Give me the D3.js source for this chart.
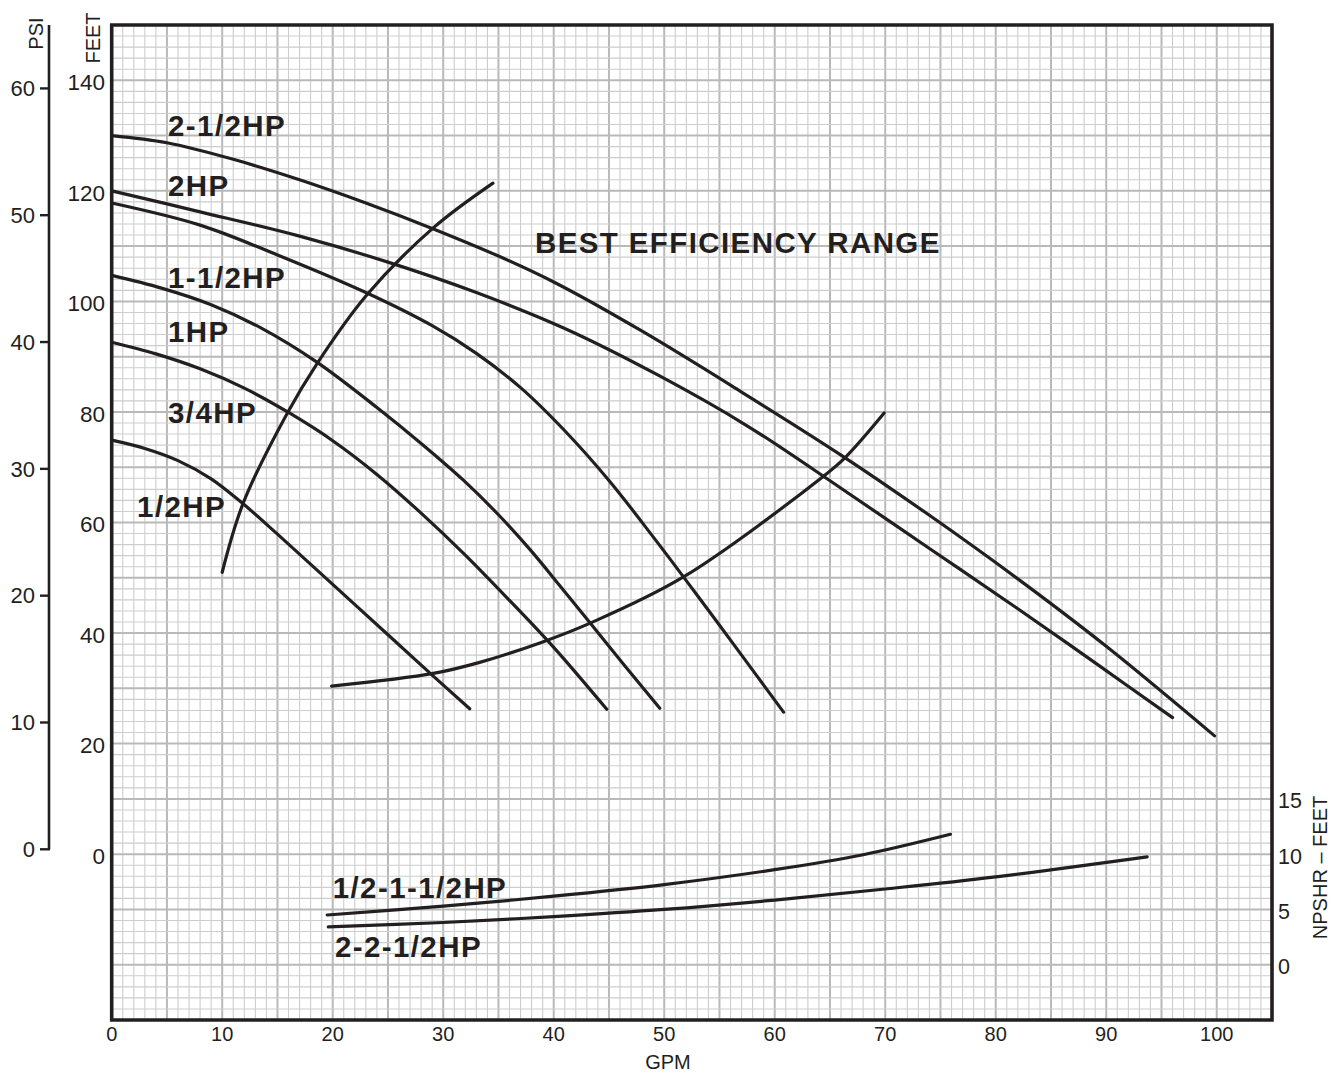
<!DOCTYPE html>
<html>
<head>
<meta charset="utf-8">
<script src="https://cdn.jsdelivr.net/npm/d3@7"></script>
<style>
  body { margin: 0; background: #fff; }
  svg { display: block; }
  text { font-family: "Liberation Sans", Arial, Helvetica, sans-serif; fill: #231f20; }
</style>
</head>
<body>
<svg id="chart" width="1331" height="1072"></svg>
<script>
// Axis tick values
const gpmTicks   = [0, 10, 20, 30, 40, 50, 60, 70, 80, 90, 100];
const feetTicks  = [0, 20, 40, 60, 80, 100, 120, 140];
const psiTicks   = [0, 10, 20, 30, 40, 50, 60];
const npshrTicks = [0, 5, 10, 15];

// Pump performance curves: [GPM, total head in feet]
const hp2_5 = [[0,130],[5,128.7],[11,125.7],[17,122],[23,117.8],[29,113.2],[35,108.2],[40,103.5],[48,94.6],[57,83.6],[66,72.2],[74,61.3],[82,49.8],[90,37.6],[99.8,21.4]];
const hp2   = [[0,120],[8,116.2],[17,111.8],[25,107.1],[33,101.6],[41,95.1],[49.5,86.6],[57.5,77.5],[66,66.2],[74,55.3],[82,44.4],[89,34.6],[96,24.7]];
const hp1_5 = [[0,117.8],[8,113.8],[15,108.4],[23,101.6],[29,95.6],[33,90.6],[37,84.4],[41,76.6],[45,67.6],[49,57.4],[53,46.8],[57,36],[60.8,25.7]];
const hp1   = [[0,104.7],[4.5,102.4],[9,99.4],[13.5,95.2],[18.5,89.1],[24,80.8],[28,74.3],[31.8,67.7],[35,61.4],[37.9,55],[40.5,48.7],[43.3,41.8],[46.5,33.9],[49.6,26.4]];
const hp075 = [[0,92.6],[4,90.5],[8,87.8],[12,84.3],[16,79.9],[20,74.8],[24,68.7],[28,61.7],[32,54.1],[36,45.9],[40,37.4],[44.8,26.2]];
const hp05  = [[0,74.9],[3,73.4],[6,71.2],[9,67.9],[12,63.2],[15,57.9],[20,48.8],[25,39.7],[29,32.4],[32.4,26.3]];

// Best efficiency range boundaries: [GPM, feet]
const bepLeft  = [[10,51],[11.9,63.5],[15.9,79.8],[18.6,88.8],[23.1,101.2],[29.1,113.3],[34.5,121.4]];
const bepRight = [[19.9,30.4],[29.1,32.7],[33.3,34.7],[39,38.4],[43.3,41.8],[51.7,50.1],[64.3,68.2],[66.4,71.8],[69.9,79.8]];

// NPSHR curves: [GPM, NPSHR feet]
const npshrSmall = [[19.5,4.5],[30,5.3],[40,6.2],[50,7.25],[60,8.6],[68,9.95],[75.9,11.8]];
const npshrLarge = [[19.6,3.42],[30,3.82],[40,4.35],[50,5.0],[60,5.85],[70,6.85],[80,7.95],[93.7,9.76]];

const svg = d3.select("#chart");
const ink = "#231f20";

const plot = { left: 111.7, right: 1272, top: 25, bottom: 1020 };

const x = d3.scaleLinear().domain([0, 105]).range([plot.left, plot.right]);
const yFeet = d3.scaleLinear().domain([-30, 150]).range([plot.bottom, plot.top]);
const yPsi = d3.scaleLinear().domain([0, 65]).range([849.3, 25]);
const yNpshr = d3.scaleLinear().domain([0, 15]).range([yFeet(-20), yFeet(10)]);

// Graph-paper grid
const grid = svg.append("g");
d3.range(0, 106, 1).forEach(v => {
  const major = v % 5 === 0;
  grid.append("line")
    .attr("x1", x(v)).attr("x2", x(v))
    .attr("y1", plot.top).attr("y2", plot.bottom)
    .attr("stroke", major ? "#b9b9b9" : "#cdcdcd")
    .attr("stroke-width", major ? 2 : 1.1);
});
d3.range(-30, 151, 2).forEach(v => {
  const major = v % 10 === 0;
  grid.append("line")
    .attr("x1", plot.left).attr("x2", plot.right)
    .attr("y1", yFeet(v)).attr("y2", yFeet(v))
    .attr("stroke", major ? "#b9b9b9" : "#cdcdcd")
    .attr("stroke-width", major ? 2 : 1.1);
});

// Curves
const lineFeet = d3.line().x(d => x(d[0])).y(d => yFeet(d[1])).curve(d3.curveCatmullRom.alpha(0.5));
const lineNpshr = d3.line().x(d => x(d[0])).y(d => yNpshr(d[1])).curve(d3.curveCatmullRom.alpha(0.5));

const curveLayer = svg.append("g")
  .attr("fill", "none").attr("stroke", ink)
  .attr("stroke-width", 3.2).attr("stroke-linecap", "round").attr("stroke-linejoin", "round");

[hp2_5, hp2, hp1_5, hp1, hp075, hp05, bepLeft, bepRight].forEach(s =>
  curveLayer.append("path").attr("d", lineFeet(s)));
[npshrSmall, npshrLarge].forEach(s =>
  curveLayer.append("path").attr("d", lineNpshr(s)));

// Frame
svg.append("path")
  .attr("d", `M${plot.left},${plot.top}H${plot.right}V${plot.bottom}H${plot.left}Z`)
  .attr("fill", "none").attr("stroke", ink).attr("stroke-width", 3.6);

// Curve labels
const curveLabels = [
  { text: "2-1/2HP", gx: 5.1, ft: 130 },
  { text: "2HP", gx: 5.1, ft: 119 },
  { text: "1-1/2HP", gx: 5.1, ft: 102.4 },
  { text: "1HP", gx: 5.1, ft: 92.6 },
  { text: "3/4HP", gx: 5.1, ft: 78 },
  { text: "1/2HP", gx: 2.3, ft: 61 },
  { text: "BEST EFFICIENCY RANGE", gx: 38.3, ft: 108.8 },
  { text: "1/2-1-1/2HP", gx: 20.0, ft: -7.9 },
  { text: "2-2-1/2HP", gx: 20.2, ft: -18.6 }
];
svg.append("g").selectAll("text").data(curveLabels).join("text")
  .attr("x", d => x(d.gx)).attr("y", d => yFeet(d.ft))
  .attr("font-size", "29.5px").attr("font-weight", "bold")
  .attr("letter-spacing", "1.4px")
  .text(d => d.text);

// Feet axis labels
svg.append("g").selectAll("text").data(feetTicks).join("text")
  .attr("x", 105).attr("y", d => yFeet(d) + 2).attr("dy", "0.35em")
  .attr("text-anchor", "end").attr("font-size", "22.5px")
  .text(d => d);
svg.append("text")
  .attr("transform", "translate(100,38) rotate(-90)")
  .attr("text-anchor", "middle").attr("font-size", "20px").text("FEET");

// PSI axis
const psiAxis = svg.append("g");
psiAxis.append("path")
  .attr("d", `M49,${yPsi(65)}V${yPsi(0)}`)
  .attr("stroke", ink).attr("stroke-width", 2.6).attr("fill", "none");
psiAxis.selectAll("line").data(psiTicks).join("line")
  .attr("x1", 40).attr("x2", 50).attr("y1", d => yPsi(d)).attr("y2", d => yPsi(d))
  .attr("stroke", ink).attr("stroke-width", 2.4);
psiAxis.selectAll("text").data(psiTicks).join("text")
  .attr("x", 35).attr("y", d => yPsi(d)).attr("dy", "0.35em")
  .attr("text-anchor", "end").attr("font-size", "22px")
  .text(d => d);
svg.append("text")
  .attr("transform", "translate(43,33.5) rotate(-90)")
  .attr("text-anchor", "middle").attr("font-size", "20px").text("PSI");

// GPM axis labels
svg.append("g").selectAll("text").data(gpmTicks).join("text")
  .attr("x", d => x(d)).attr("y", 1041)
  .attr("text-anchor", "middle").attr("font-size", "20px")
  .text(d => d);
svg.append("text")
  .attr("x", 668).attr("y", 1069)
  .attr("text-anchor", "middle").attr("font-size", "20px").text("GPM");

// NPSHR axis labels
svg.append("g").selectAll("text").data(npshrTicks).join("text")
  .attr("x", 1278).attr("y", d => yNpshr(d) + 2).attr("dy", "0.35em")
  .attr("font-size", "21.5px")
  .text(d => d);
svg.append("text")
  .attr("transform", "translate(1327,867.5) rotate(-90)")
  .attr("text-anchor", "middle").attr("font-size", "20px").text("NPSHR – FEET");
</script>
</body>
</html>
